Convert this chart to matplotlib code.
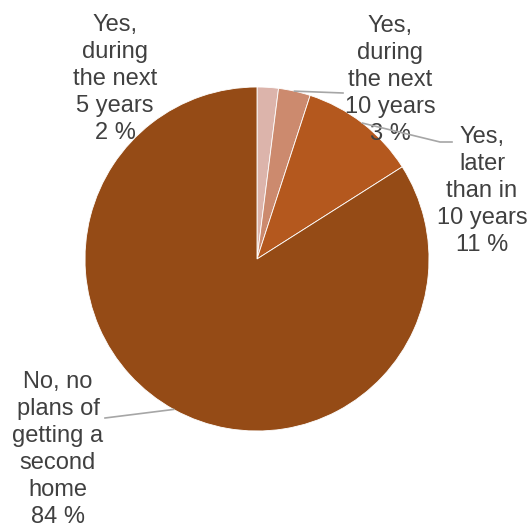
import numpy as np
import matplotlib
matplotlib.use('Agg')
import matplotlib.pyplot as plt

plt.rcParams['font.family'] = ['Liberation Sans', 'DejaVu Sans']

labels = ['Yes,\nduring\nthe next\n5 years', 'Yes,\nduring\nthe next\n10 years',
          'Yes,\nlater\nthan in\n10 years', 'No, no\nplans of\ngetting a\nsecond\nhome']
shares = [2, 3, 11, 84]
colors = ['#dcb4ab', '#cc8a6e', '#b4581e', '#954b16']

W, H = 529, 528
cx, cy, r = 257, 269, 172

fig = plt.figure(figsize=(W / 100, H / 100), dpi=100)
ax = fig.add_axes([0, 0, 1, 1])

wedges, _ = ax.pie(shares, colors=colors, startangle=90, counterclock=False,
                   center=(cx, cy), radius=r, frame=True,
                   wedgeprops=dict(edgecolor='white', linewidth=0.6))
ax.set_xlim(0, W)
ax.set_ylim(0, H)
ax.set_aspect('equal')
ax.axis('off')

# label centres (x, top of first line) and leader lines
text_pos = [(115, 514), (390, 513), (482, 402), (58, 157)]
# (start angle or None for wedge middle, list of points after the start)
leaders = [None,
           (None, [(343, 435)]),
           (None, [(440, 386), (452, 386)]),
           (-119, [(105, 110)])]

for i, (lab, val) in enumerate(zip(labels, shares)):
    tx, ty = text_pos[i]
    ax.text(tx, ty, f'{lab}\n{val} %', ha='center', va='top', fontsize=17,
            color='#404040', linespacing=1.29)
    if leaders[i] is None:
        continue
    ang, pts = leaders[i]
    if ang is None:
        w = wedges[i]
        ang = (w.theta1 + w.theta2) / 2
    a = np.deg2rad(ang)
    xs = [cx + r * np.cos(a)] + [p[0] for p in pts]
    ys = [cy + r * np.sin(a)] + [p[1] for p in pts]
    ax.plot(xs, ys, color='#a6a6a6', lw=1.2, zorder=3)

fig.savefig('out.png', dpi=100)
